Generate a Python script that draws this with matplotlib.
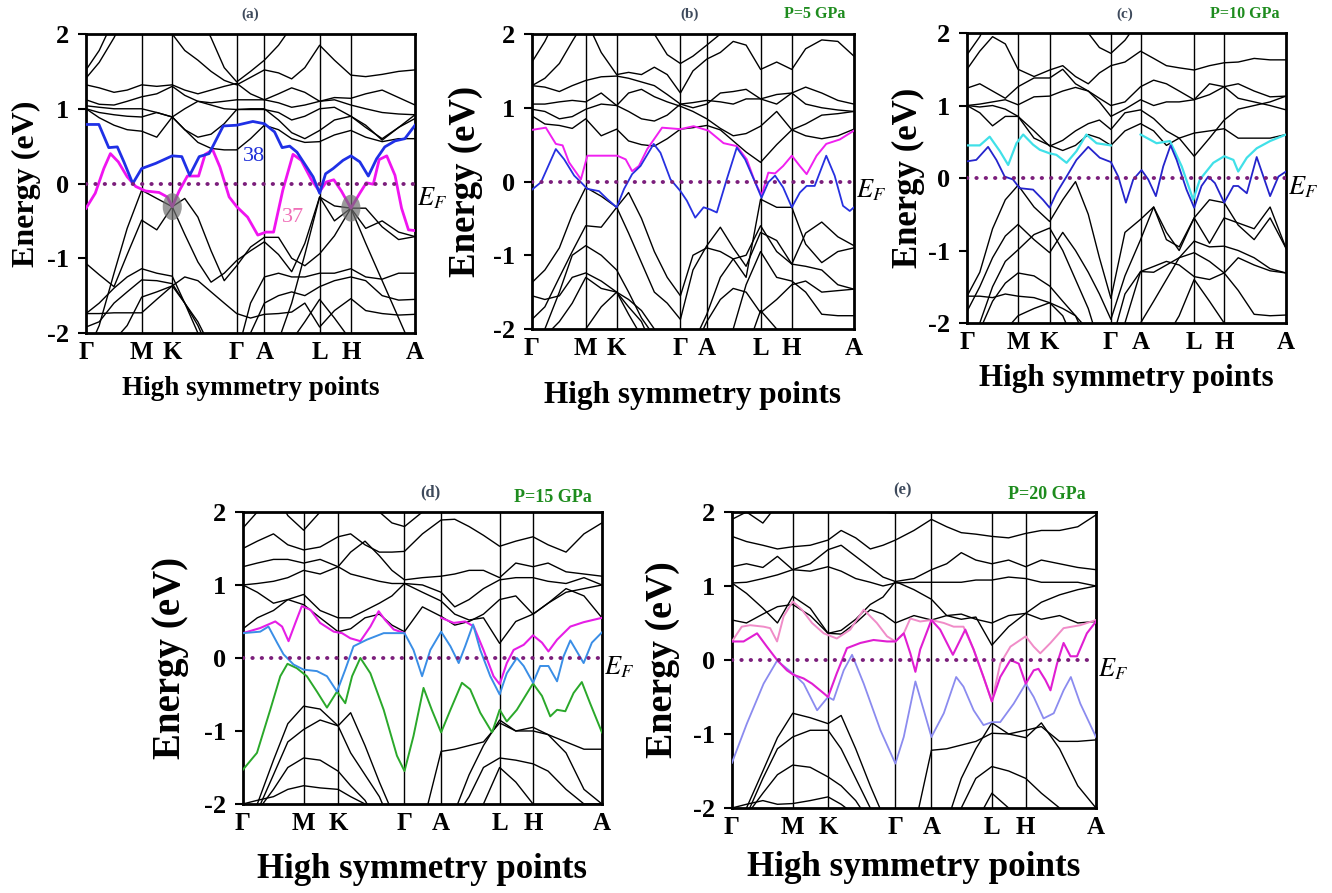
import matplotlib.pyplot as plt
from matplotlib.patches import Ellipse

plt.rcParams['font.family'] = ['Liberation Serif', 'DejaVu Serif']
plt.rcParams['mathtext.fontset'] = 'stix'

sym_labels = ['Γ', 'M', 'K', 'Γ', 'A', 'L', 'H', 'A']
e_ticks = [-2, -1, 0, 1, 2]

# ---------------- panel (a) ----------------
a_sym = [0, 16.9, 26.2, 45.8, 54.2, 71.0, 80.5, 100]
a_grid = [0, 4, 8.5, 12.5, 16.9, 21.5, 26.2, 30, 34, 38, 42, 45.8, 50, 54.2, 58.5, 62.5, 66.5, 71.0, 75.5, 80.5, 85, 90, 95, 100]
a_black = [
    [1.52, 1.78, 2.2, 2.4, 2.4, 2.4, 2.4, 2.4, 2.3, 1.95, 1.55, 1.36, 1.5, 1.65, 1.85, 2.1, 2.4, 2.4, 2.4, 2.4, 2.4, 2.4, 2.4, 2.4],
    [1.41, 1.62, 1.95, 2.3, 2.4, 2.3, 2.0, 1.78, 1.65, 1.5, 1.38, 1.32, 1.42, 1.52, 1.48, 1.4, 1.55, 1.85, 1.65, 1.45, 1.43, 1.46, 1.5, 1.52],
    [1.32, 1.28, 1.22, 1.25, 1.32, 1.3, 1.32, 1.25, 1.2, 1.25, 1.3, 1.34, 1.2, 1.12, 1.2, 1.28, 1.22, 1.1, 1.15, 1.14, 1.2, 1.25, 1.15, 1.05],
    [1.12, 1.06, 1.05, 1.1, 1.16, 1.2, 1.3, 1.18, 1.1, 1.08, 1.1, 1.12, 1.12, 1.12, 1.08, 1.02, 1.05, 1.1, 1.12, 1.05, 1.0, 0.95, 0.93, 0.92],
    [1.04, 1.02, 1.0, 1.0, 1.0, 0.95, 0.89, 1.0, 1.1, 1.05, 1.0, 0.99, 0.99, 0.99, 0.95, 0.85, 0.9, 1.0, 1.02, 0.9, 0.75, 0.6, 0.75, 0.87],
    [1.0, 0.88, 0.78, 0.72, 0.7, 0.62, 0.89, 0.72, 0.62, 0.66, 0.8, 0.99, 1.0, 1.0, 0.85, 0.68, 0.6, 0.71, 0.85, 0.9, 0.78, 0.58, 0.75, 0.92],
    [1.0, 0.95, 0.92, 0.9, 0.89, 0.95, 0.89, 0.72, 0.55, 0.47, 0.45, 0.45, 0.6, 0.78, 0.72, 0.6, 0.55, 0.56, 0.65, 0.71, 0.62, 0.56, 0.6, 0.6],
    [-1.07, -1.22, -1.38, -0.95, -0.49, -0.62, -0.31, -0.2, -0.45, -0.9, -1.3, -1.1, -0.85, -0.72, -0.72, -1.0, -1.1, -0.94, -0.7, -0.33, -0.6, -0.5, -0.65, -0.71],
    [-2.3, -1.9, -1.2, -0.6, -0.09, -0.2, -0.31, -0.68, -1.05, -1.32, -1.2, -1.03, -0.9, -0.78, -0.95, -1.18, -0.8, -0.18, -0.5, -0.33, -0.33, -0.58, -0.75, -0.71],
    [-1.74, -1.6, -1.4, -1.25, -1.14, -1.2, -1.24, -1.6, -2.0, -2.3, -2.3, -2.3, -1.6, -1.25, -1.2, -1.25, -1.25, -1.2, -1.2, -1.14, -1.25, -1.28, -1.2, -1.2],
    [-1.92, -1.85, -1.6, -1.45, -1.29, -1.3, -1.34, -1.6, -1.85, -2.2, -2.3, -2.3, -2.0, -1.6, -1.5, -1.45, -1.5, -1.38, -1.3, -1.25, -1.3, -1.5, -1.56, -1.55],
    [-1.74, -1.74, -1.73, -1.73, -1.73, -1.55, -1.37, -1.25, -1.3, -1.45, -1.6, -1.74, -1.8, -1.75, -1.74, -1.72, -1.6, -1.92, -1.7, -1.54, -1.7, -1.74, -1.76, -1.75],
    [-2.3, -2.3, -2.1, -1.9, -1.52, -1.45, -1.37, -1.6, -1.9, -2.3, -2.3, -2.3, -2.3, -2.3, -2.3, -2.1, -1.85, -1.55, -1.8, -2.1, -2.3, -2.3, -2.3, -2.3],
    [-2.3, -2.3, -2.3, -2.3, -2.3, -2.3, -2.3, -2.3, -2.3, -2.3, -2.3, -2.3, -2.3, -2.3, -2.1, -1.6, -0.95, -0.18, -0.3, -0.33, -0.8, -1.3, -1.8, -2.3],
]
a_k38 = [0, 3.9, 6.9, 9.5, 11.5, 14.2, 16.9, 21.2, 26.2, 29.1, 31.5, 34.4, 37.4, 41.7, 45.8, 50.7, 54.2, 57.3, 59.6, 61.9, 64.1, 69.0, 71.0, 72.8, 75.1, 78.1, 80.5, 83.2, 85.8, 88.3, 90.8, 93.9, 96.9, 100]
a_e38 = [0.79, 0.79, 0.48, 0.49, 0.29, 0.0, 0.20, 0.27, 0.37, 0.36, 0.11, 0.36, 0.40, 0.77, 0.78, 0.83, 0.80, 0.69, 0.48, 0.50, 0.42, 0.09, -0.13, 0.13, 0.20, 0.31, 0.37, 0.29, 0.10, 0.33, 0.49, 0.57, 0.60, 0.78]
a_k37 = [0, 2.8, 5.4, 7.4, 9.8, 12.5, 15.1, 18.1, 22.2, 24.7, 26.2, 28.3, 30.8, 34.2, 36.2, 38.5, 40.7, 43.5, 45.8, 49.1, 52.2, 54.7, 57.0, 59.8, 62.9, 65.4, 68.5, 71.0, 73.0, 75.3, 77.6, 80.5, 83.2, 85.2, 87.3, 89.1, 91.4, 93.9, 95.9, 98.0, 100]
a_e37 = [-0.33, -0.13, 0.20, 0.40, 0.29, 0.09, -0.04, -0.10, -0.12, -0.18, -0.31, -0.10, 0.10, 0.10, 0.39, 0.45, 0.22, -0.18, -0.31, -0.45, -0.69, -0.65, -0.65, -0.09, 0.39, 0.31, 0.05, -0.11, 0.02, 0.05, -0.10, -0.33, -0.13, 0.01, -0.01, 0.32, 0.37, 0.11, -0.33, -0.62, -0.63]
a_node_k = [26.2, 80.5]
a_node_e = [-0.31, -0.33]

# ---------------- panel (b) P=5 GPa ----------------
b_sym = [0, 16.7, 26.3, 46.1, 54.3, 71.0, 80.7, 100]
b_grid = [0, 4, 8.5, 12.5, 16.7, 21.5, 26.3, 30, 34, 38, 42, 46.1, 50, 54.3, 58.5, 62.5, 66.5, 71.0, 76, 80.7, 85, 90, 95, 100]
b_black = [
    [1.62, 1.9, 2.3, 2.4, 2.4, 2.4, 2.4, 2.4, 2.3, 2.0, 1.72, 1.6, 1.7, 1.85, 2.0, 2.2, 2.4, 2.4, 2.4, 2.4, 2.4, 2.4, 2.4, 2.4],
    [1.3, 1.4, 1.6, 1.9, 2.2, 1.75, 1.45, 1.48, 1.45, 1.55, 1.45, 1.2, 1.5, 1.66, 1.75, 1.9, 1.85, 1.52, 1.62, 1.52, 1.8, 1.92, 1.9, 1.7],
    [1.3, 1.28, 1.22, 1.3, 1.37, 1.42, 1.43, 1.4, 1.35, 1.3, 1.18, 1.05, 1.0, 1.05, 1.2, 1.22, 1.25, 1.12, 1.18, 1.2, 1.28, 1.2, 1.1, 1.05],
    [1.05, 1.05, 1.08, 1.1, 1.08, 1.2, 1.03, 0.95, 0.85, 0.82, 0.9, 1.05, 1.07, 1.1, 1.08, 1.05, 1.12, 1.12, 1.05, 1.2, 1.05, 1.0, 0.97, 0.95],
    [0.98, 0.95, 0.85, 0.88, 0.98, 1.05, 1.03, 1.2, 1.25, 1.15, 1.08, 1.02, 0.95, 0.85, 0.72, 0.62, 0.65, 0.75, 0.95, 0.7, 0.78, 0.9, 0.92, 0.95],
    [0.89, 0.78, 0.76, 0.72, 0.85, 0.62, 0.71, 0.55, 0.5, 0.48, 0.58, 0.71, 0.73, 0.76, 0.7, 0.55, 0.4, 0.26, 0.5, 0.7, 0.62, 0.58, 0.62, 0.71],
    [-1.37, -1.2, -0.9, -0.45, -0.08, -0.2, -0.35, -0.7, -1.1, -1.5, -1.65, -1.87, -1.2, -0.87, -0.62, -0.9, -1.15, -0.69, -0.8, -1.12, -0.7, -0.55, -0.75, -0.87],
    [-1.87, -1.7, -1.3, -0.95, -0.6, -0.62, -0.35, -0.15, -0.5, -0.95, -1.3, -1.55, -1.0, -0.9, -0.95, -1.05, -1.3, -0.24, -0.35, -0.35, -0.85, -1.1, -0.95, -0.9],
    [-2.3, -2.0, -1.5, -1.0, -0.87, -1.0, -1.2, -1.5, -1.85, -2.1, -2.3, -2.3, -2.2, -1.8, -1.3, -1.05, -1.0, -0.6, -0.95, -1.12, -1.15, -1.2, -1.4, -1.46],
    [-1.55, -1.6, -1.55, -1.3, -1.24, -1.35, -1.5, -1.6, -1.75, -2.0, -2.3, -2.3, -2.3, -1.9, -1.6, -1.45, -1.5, -1.78, -1.6, -1.4, -1.35, -1.5, -1.48, -1.46],
    [-2.3, -2.1, -1.9, -1.65, -1.3, -1.45, -1.5, -1.7, -1.9, -2.3, -2.3, -2.3, -2.3, -2.3, -2.3, -2.0, -1.4, -0.95, -1.3, -1.35, -1.5, -1.8, -1.82, -1.82],
    [-2.3, -2.3, -2.3, -2.3, -2.0, -1.7, -1.5, -1.8, -2.1, -2.3, -2.3, -2.3, -2.3, -2.3, -2.3, -2.3, -2.3, -1.75, -2.0, -2.3, -2.3, -2.3, -2.3, -2.3],
]
b_k_mag = [0, 4.3, 7.4, 9.5, 11.5, 15.2, 17.2, 26.5, 29.1, 31.1, 33.2, 35.8, 40.4, 46.1, 50.2, 54.8, 59.5, 63.6, 66.7, 69.3, 71.3, 73.4, 75.5, 78.0, 80.7, 83.2, 85.3, 88.4, 91.4, 95.6, 100]
b_e_mag = [0.70, 0.73, 0.51, 0.49, 0.26, 0.03, 0.35, 0.35, 0.30, 0.14, 0.21, 0.44, 0.73, 0.71, 0.75, 0.69, 0.52, 0.48, 0.30, -0.01, -0.19, 0.12, 0.11, 0.21, 0.35, 0.21, 0.10, 0.35, 0.51, 0.57, 0.69]
b_k_blue = [0, 2.8, 7.4, 10.0, 13.1, 15.2, 17.2, 20.8, 23.4, 26.3, 28.6, 31.1, 33.7, 37.8, 39.9, 43.0, 46.1, 48.1, 50.7, 53.3, 55.4, 57.4, 60.5, 63.6, 66.2, 69.3, 71.3, 73.4, 75.5, 78.0, 80.7, 83.2, 85.3, 87.8, 91.4, 94.0, 96.6, 98.7, 100]
b_e_blue = [-0.11, -0.01, 0.44, 0.30, 0.08, -0.01, -0.10, -0.13, -0.24, -0.35, -0.10, 0.10, 0.21, 0.51, 0.39, 0.03, -0.13, -0.26, -0.49, -0.35, -0.38, -0.42, 0.03, 0.46, 0.30, -0.01, -0.22, -0.01, 0.08, -0.08, -0.35, -0.15, -0.06, -0.06, 0.35, 0.08, -0.33, -0.40, -0.35]

# ---------------- panel (c) P=10 GPa ----------------
c_sym = [0, 16.0, 25.9, 45.1, 54.4, 71.2, 80.6, 100]
c_grid = [0, 4, 8, 12, 16.0, 21, 25.9, 30, 34, 38, 41.5, 45.1, 49.5, 54.4, 58.5, 62.5, 66.5, 71.2, 76, 80.6, 85, 90, 95, 100]
c_black = [
    [1.7, 1.95, 2.3, 2.4, 2.4, 2.4, 2.4, 2.4, 2.3, 2.0, 1.8, 1.72, 1.9, 2.2, 2.4, 2.4, 2.4, 2.4, 2.4, 2.4, 2.4, 2.4, 2.4, 2.4],
    [1.5, 1.75, 1.95, 1.85, 1.5, 1.4, 1.49, 1.55, 1.4, 1.3, 1.45, 1.55, 1.6, 1.75, 1.65, 1.55, 1.52, 1.49, 1.55, 1.59, 1.6, 1.65, 1.63, 1.63],
    [1.24, 1.3, 1.2, 1.1, 1.26, 1.38, 1.38, 1.5, 1.3, 1.2, 1.1, 1.0, 1.05, 1.26, 1.35, 1.3, 1.2, 1.08, 1.3, 1.26, 1.3, 1.2, 1.12, 1.13],
    [1.0, 1.02, 1.05, 1.08, 1.01, 1.12, 1.13, 1.2, 1.25, 1.2, 1.05, 0.85, 0.95, 1.08, 1.0, 1.05, 1.05, 1.08, 1.15, 1.26, 1.1, 1.05, 1.0, 0.94],
    [1.0, 0.9, 0.72, 0.85, 0.85, 0.65, 0.44, 0.52, 0.65, 0.75, 0.8, 0.67, 0.9, 0.94, 0.82, 0.65, 0.55, 0.3, 0.55, 0.8, 0.95, 1.0, 1.05, 1.13],
    [1.0, 0.98, 1.0, 0.95, 0.85, 0.55, 0.45, 0.38, 0.45, 0.6, 0.55, 0.45, 0.65, 0.75, 0.65, 0.45, 0.55, 0.62, 0.65, 0.68, 0.55, 0.55, 0.55, 0.6],
    [-1.63, -1.3, -0.7, -0.3, -0.1, -0.4, -0.6, -0.3, -0.05, -0.5, -1.1, -1.66, -0.75, -0.57, -0.4, -0.85, -0.95, -0.55, -0.9, -0.55, -0.62, -0.7, -0.4, -0.97],
    [-1.84, -1.5, -1.1, -0.8, -0.64, -0.85, -1.03, -0.75, -1.0, -1.3, -1.6, -1.95, -1.35, -0.85, -0.4, -0.75, -1.0, -0.55, -0.3, -0.34, -0.65, -0.85, -0.55, -0.97],
    [-2.3, -2.0, -1.5, -1.15, -0.99, -0.78, -0.69, -1.0, -1.4, -1.8, -2.3, -2.3, -1.6, -1.29, -1.3, -1.2, -1.1, -0.87, -0.95, -0.94, -1.0, -1.1, -1.25, -1.31],
    [-2.3, -2.1, -1.7, -1.45, -1.31, -1.35, -1.49, -1.7, -1.9, -2.3, -2.3, -2.3, -2.0, -1.29, -1.22, -1.15, -1.2, -1.36, -1.4, -1.31, -1.1, -1.2, -1.28, -1.31],
    [-1.63, -1.63, -1.65, -1.6, -1.63, -1.65, -1.72, -1.8, -1.9, -2.1, -2.3, -2.3, -2.3, -2.0, -1.7, -1.4, -1.1, -1.03, -1.15, -1.31, -1.55, -1.88, -1.9, -1.89],
    [-2.3, -2.3, -2.3, -2.1, -1.9, -1.8, -1.72, -1.9, -2.3, -2.3, -2.3, -2.3, -2.3, -2.3, -2.3, -2.2, -1.9, -1.4, -1.7, -2.0, -2.3, -2.3, -2.3, -2.3],
]
c_k_cyan1 = [0, 4.0, 7.1, 10.3, 12.9, 15.5, 17.6, 20.7, 22.8, 25.9, 28.0, 31.2, 34.3, 37.4, 40.6, 45.1]
c_e_cyan1 = [0.45, 0.45, 0.57, 0.37, 0.18, 0.48, 0.60, 0.46, 0.39, 0.34, 0.32, 0.21, 0.37, 0.60, 0.48, 0.45]
c_k_cyan2 = [54.4, 59.4, 63.6, 67.3, 70.9, 73.0, 77.2, 80.6, 83.5, 85.0, 87.7, 90.8, 95.0, 100]
c_e_cyan2 = [0.60, 0.48, 0.51, 0.16, -0.30, -0.02, 0.21, 0.30, 0.25, 0.09, 0.28, 0.41, 0.51, 0.60]
c_k_blue = [0, 2.9, 6.6, 9.2, 11.8, 14.4, 16.5, 20.7, 23.8, 25.9, 28.0, 31.2, 34.3, 38.0, 41.6, 45.1, 47.4, 49.8, 52.1, 54.7, 56.8, 59.2, 61.5, 63.8, 65.7, 68.8, 71.2, 73.5, 75.6, 77.7, 80.6, 83.5, 85.0, 87.7, 90.8, 92.9, 95.0, 97.6, 100]
c_e_blue = [0.23, 0.25, 0.43, 0.25, 0.02, -0.02, -0.14, -0.16, -0.30, -0.41, -0.21, 0.02, 0.25, 0.43, 0.28, 0.22, 0.02, -0.34, -0.02, 0.11, -0.02, -0.25, 0.16, 0.45, 0.25, -0.16, -0.41, -0.11, 0.02, -0.07, -0.34, -0.11, -0.11, -0.21, 0.29, 0.02, -0.25, 0.02, 0.09]

# ---------------- panel (d) P=15 GPa ----------------
d_sym = [0, 16.9, 26.5, 45.0, 55.2, 71.5, 80.8, 100]
d_grid = [0, 4, 8.5, 12.5, 16.9, 21.5, 26.5, 30, 34, 38, 41.5, 45.0, 50, 55.2, 59, 63, 67, 71.5, 76, 80.8, 85, 90, 95, 100]
d_black = [
    [1.78, 2.0, 2.3, 1.95, 1.75, 2.0, 2.3, 2.4, 2.3, 2.0, 1.85, 1.8, 2.0, 2.3, 2.4, 2.4, 2.4, 2.4, 2.4, 2.4, 2.4, 2.4, 2.4, 2.4],
    [1.5, 1.6, 1.7, 1.55, 1.48, 1.52, 1.66, 1.7, 1.55, 1.45, 1.45, 1.46, 1.7, 1.89, 1.9, 1.8, 1.68, 1.53, 1.6, 1.66, 1.55, 1.45, 1.7, 1.85],
    [1.25, 1.3, 1.35, 1.35, 1.3, 1.35, 1.25, 1.45, 1.6, 1.4, 1.2, 1.07, 1.1, 1.12, 1.15, 1.2, 1.2, 1.1, 1.3, 1.25, 1.3, 1.18, 1.15, 1.12],
    [1.0, 1.02, 1.05, 1.1, 1.2, 1.15, 1.25, 1.15, 1.1, 1.05, 1.02, 1.02, 1.0, 0.9, 0.7, 0.8, 0.95, 1.07, 1.1, 1.1, 1.05, 1.02, 1.1, 1.0],
    [1.0, 0.9, 0.75, 0.8, 0.87, 0.65, 0.55, 0.55, 0.65, 0.75, 0.85, 1.02, 0.9, 0.78, 0.6, 0.52, 0.55, 0.2, 0.5, 0.6, 0.75, 0.9, 0.95, 1.0],
    [0.4, 0.55, 0.65, 0.8, 0.73, 0.55, 0.36, 0.4, 0.55, 0.6, 0.45, 0.36, 0.7, 0.57, 0.45, 0.5, 0.6, 0.8, 0.85, 0.6, 0.75, 0.95, 0.85, 0.55],
    [-2.3, -2.0, -1.4, -0.9, -0.66, -0.7, -0.93, -1.3, -1.6, -1.9, -2.3, -2.3, -2.3, -1.28, -1.25, -1.2, -1.15, -0.89, -1.0, -0.95, -1.05, -1.15, -1.25, -1.25],
    [-2.3, -2.1, -1.6, -1.15, -0.98, -0.85, -0.93, -0.75, -1.2, -1.7, -2.1, -2.3, -2.3, -2.3, -2.1, -1.6, -1.2, -0.85, -1.0, -1.0, -1.05, -1.3, -1.8, -2.0],
    [-2.3, -2.1, -1.8, -1.5, -1.37, -1.4, -1.55, -1.75, -1.95, -2.3, -2.3, -2.3, -2.3, -2.3, -2.2, -1.9, -1.5, -1.37, -1.4, -1.45, -1.55, -1.8, -2.0, -2.0],
    [-2.0, -1.95, -1.9, -1.8, -1.75, -1.78, -1.8, -1.9, -2.0, -2.3, -2.3, -2.3, -2.3, -2.3, -2.3, -2.3, -2.0, -1.5, -1.7, -2.0, -2.3, -2.3, -2.3, -2.3],
]
d_k_mag1 = [0, 4.8, 9.0, 10.9, 12.7, 14.6, 16.4, 18.8, 21.5, 25.3, 27.6, 29.9, 32.7, 35.5, 37.8, 39.6, 42.0, 45.0]
d_e_mag1 = [0.34, 0.41, 0.50, 0.43, 0.23, 0.48, 0.71, 0.66, 0.48, 0.36, 0.34, 0.27, 0.23, 0.43, 0.64, 0.52, 0.39, 0.34]
d_k_mag2 = [55.2, 58.7, 61.9, 64.3, 67.0, 69.8, 71.5, 73.5, 75.4, 78.2, 80.8, 83.3, 85.1, 87.5, 91.2, 94.9, 100]
d_e_mag2 = [0.55, 0.48, 0.50, 0.43, 0.11, -0.25, -0.36, -0.07, 0.11, 0.18, 0.31, 0.21, 0.09, 0.25, 0.43, 0.49, 0.55]
d_k_blue = [0, 4.8, 7.1, 9.5, 11.3, 14.1, 16.9, 20.6, 23.4, 26.2, 28.5, 30.8, 34.5, 39.2, 45.0, 47.5, 49.9, 52.2, 55.2, 57.8, 60.1, 61.9, 64.1, 66.1, 68.9, 71.5, 73.5, 76.3, 78.2, 80.8, 82.8, 85.1, 87.5, 89.3, 91.2, 93.0, 94.9, 97.2, 100]
d_e_blue = [0.34, 0.36, 0.43, 0.21, 0.05, -0.09, -0.16, -0.18, -0.25, -0.46, -0.16, 0.16, 0.25, 0.34, 0.34, 0.11, -0.25, 0.11, 0.36, 0.16, -0.07, 0.16, 0.46, 0.11, -0.25, -0.50, -0.21, 0.0, -0.11, -0.34, -0.11, -0.11, -0.32, 0.02, 0.24, 0.09, -0.07, 0.21, 0.35]
d_k_green = [0, 3.9, 7.6, 10.4, 12.4, 15.0, 17.8, 20.6, 23.4, 26.2, 28.5, 30.4, 32.7, 35.5, 39.2, 42.9, 45.0, 47.5, 50.3, 52.6, 55.2, 57.8, 61.0, 63.3, 66.1, 69.4, 71.5, 73.5, 76.3, 80.8, 83.3, 85.6, 87.5, 89.8, 92.1, 94.4, 96.7, 100]
d_e_green = [-1.53, -1.30, -0.71, -0.25, -0.08, -0.14, -0.25, -0.46, -0.68, -0.46, -0.62, -0.25, 0.0, -0.21, -0.71, -1.34, -1.55, -1.07, -0.41, -0.71, -1.02, -0.71, -0.34, -0.43, -0.75, -1.02, -0.71, -0.87, -0.71, -0.35, -0.52, -0.80, -0.71, -0.73, -0.48, -0.33, -0.62, -1.02]

# ---------------- panel (e) P=20 GPa ----------------
e_sym = [0, 16.7, 26.4, 44.9, 54.8, 71.4, 80.7, 100]
e_grid = [0, 4, 8.5, 12.5, 16.7, 21.5, 26.4, 30, 34, 38, 41.5, 44.9, 50, 54.8, 59, 63, 67, 71.4, 76, 80.7, 85, 90, 95, 100]
e_black = [
    [1.9, 2.0, 1.85, 2.1, 2.4, 2.4, 2.4, 2.4, 2.3, 2.1, 2.0, 1.98, 2.1, 2.3, 2.4, 2.4, 2.4, 2.4, 2.4, 2.4, 2.4, 2.4, 2.4, 2.4],
    [1.67, 1.6, 1.55, 1.5, 1.53, 1.55, 1.62, 1.75, 1.65, 1.5, 1.55, 1.62, 1.75, 1.9, 1.8, 1.72, 1.7, 1.67, 1.65, 1.71, 1.75, 1.75, 1.8, 1.96],
    [1.26, 1.3, 1.25, 1.4, 1.22, 1.3, 1.49, 1.55, 1.4, 1.25, 1.12, 1.06, 1.1, 1.22, 1.3, 1.45, 1.35, 1.3, 1.35, 1.26, 1.35, 1.3, 1.25, 1.22],
    [1.04, 1.05, 1.1, 1.15, 1.22, 1.2, 1.26, 1.2, 1.1, 1.05, 1.0, 1.04, 1.05, 1.05, 1.05, 1.05, 1.08, 1.08, 1.12, 1.1, 1.05, 1.05, 1.05, 1.0],
    [1.04, 0.9, 0.7, 0.5, 0.86, 0.7, 0.36, 0.4, 0.55, 0.75, 0.85, 1.06, 0.95, 0.82, 0.6, 0.55, 0.58, 0.2, 0.45, 0.63, 0.78, 0.88, 0.95, 1.0],
    [0.54, 0.5, 0.62, 0.72, 0.75, 0.6, 0.36, 0.35, 0.5, 0.68, 0.62, 0.5, 0.6, 0.54, 0.6, 0.62, 0.55, 0.5, 0.6, 0.63, 0.55, 0.6, 0.5, 0.52],
    [-2.3, -2.0, -1.5, -1.05, -0.72, -0.78, -0.86, -0.75, -1.2, -1.7, -2.1, -2.3, -2.3, -1.22, -1.2, -1.15, -1.1, -0.99, -1.0, -0.95, -0.9, -1.1, -1.1, -1.08],
    [-2.3, -2.1, -1.6, -1.2, -1.04, -0.95, -0.95, -1.2, -1.6, -2.0, -2.3, -2.3, -2.3, -2.3, -2.2, -1.6, -1.2, -0.85, -1.0, -1.05, -0.85, -1.2, -1.7, -2.0],
    [-2.3, -2.1, -1.8, -1.55, -1.42, -1.45, -1.58, -1.7, -1.9, -2.2, -2.3, -2.3, -2.3, -2.3, -2.3, -2.0, -1.6, -1.44, -1.5, -1.6, -1.8, -2.0, -2.2, -2.3],
    [-2.0, -1.95, -1.9, -1.95, -1.94, -1.9, -1.85, -1.95, -2.1, -2.3, -2.3, -2.3, -2.3, -2.3, -2.3, -2.3, -2.2, -1.8, -2.0, -2.3, -2.3, -2.3, -2.3, -2.3],
]
e_k_pink = [0, 2.7, 5.0, 8.7, 10.5, 12.4, 14.2, 16.7, 19.2, 22.0, 25.2, 28.8, 32.5, 36.2, 39.8, 42.6, 44.9, 47.2, 49.0, 51.7, 54.8, 58.2, 60.9, 63.6, 66.4, 69.1, 71.4, 73.7, 76.5, 79.2, 80.7, 82.9, 84.7, 87.5, 91.1, 95.7, 100]
e_e_pink = [0.25, 0.45, 0.47, 0.45, 0.43, 0.25, 0.59, 0.79, 0.68, 0.50, 0.36, 0.29, 0.41, 0.68, 0.50, 0.32, 0.25, 0.36, 0.56, 0.52, 0.54, 0.50, 0.45, 0.45, 0.14, -0.23, -0.56, -0.05, 0.18, 0.27, 0.32, 0.18, 0.09, 0.23, 0.43, 0.47, 0.54]
e_k_mag = [0, 3.2, 6.9, 9.6, 12.4, 15.1, 16.9, 19.7, 22.0, 25.2, 26.4, 28.8, 31.6, 35.3, 38.9, 42.6, 44.9, 47.2, 49.0, 50.4, 51.7, 54.8, 57.2, 60.7, 62.3, 64.1, 66.4, 69.1, 71.4, 73.7, 76.5, 78.8, 80.7, 82.9, 84.2, 86.1, 87.5, 89.3, 91.1, 93.0, 94.8, 97.5, 100]
e_e_mag = [0.25, 0.25, 0.36, 0.18, 0.0, -0.14, -0.20, -0.25, -0.32, -0.45, -0.50, -0.18, 0.16, 0.23, 0.27, 0.25, 0.25, 0.36, 0.09, -0.16, 0.14, 0.54, 0.41, 0.07, 0.23, 0.41, 0.14, -0.23, -0.56, -0.23, 0.0, -0.05, -0.32, -0.14, -0.12, -0.27, -0.41, -0.05, 0.23, 0.05, 0.05, 0.36, 0.52]
e_k_lav = [0, 4.1, 8.7, 12.4, 16.7, 19.7, 23.4, 26.4, 27.9, 30.7, 33.0, 36.2, 40.8, 44.9, 47.2, 50.4, 52.7, 54.8, 58.2, 61.6, 63.6, 66.4, 69.1, 71.4, 73.7, 77.4, 80.7, 82.9, 85.6, 88.4, 91.1, 93.1, 95.7, 100]
e_e_lav = [-1.39, -0.86, -0.32, -0.01, -0.18, -0.32, -0.68, -0.50, -0.54, -0.14, 0.07, -0.32, -0.95, -1.40, -1.04, -0.29, -0.68, -1.04, -0.72, -0.23, -0.36, -0.68, -0.88, -0.84, -0.84, -0.59, -0.32, -0.50, -0.79, -0.72, -0.41, -0.23, -0.59, -1.04]

fig = plt.figure(figsize=(13.32, 8.93), dpi=100)


def draw_panel(rect, sym, grid, black, colored, ylab_x, xlab_y, xlab_size, ylab_size, ef_y=-0.12):
    ax = fig.add_axes(rect)
    for band in black:
        ax.plot(grid, band, color='black', lw=1.0, zorder=2)
    for k, e, col, lw in colored:
        ax.plot(k, e, color=col, lw=lw, zorder=3, solid_joinstyle='round')
    for x in sym[1:-1]:
        ax.axvline(x, color='black', lw=1.0, zorder=1)
    ax.axhline(0, color='#7b1e7b', lw=2.8, ls=(0, (0.1, 2.3)),
               dash_capstyle='round', zorder=4)
    ax.set_xlim(0, 100)
    ax.set_ylim(-2, 2)
    ax.set_xticks(sym)
    ax.set_xticklabels(sym_labels, fontsize=18, fontweight='bold')
    ax.tick_params(axis='x', length=0, pad=6)
    ax.set_yticks(e_ticks)
    ax.set_yticklabels([str(t) for t in e_ticks], fontsize=19, fontweight='bold')
    ax.tick_params(axis='y', length=6, width=1.5, pad=6)
    for s in ax.spines.values():
        s.set_linewidth(2)
    ax.set_xlabel('High symmetry points', fontsize=xlab_size, fontweight='bold')
    ax.xaxis.set_label_coords(0.5, xlab_y)
    ax.xaxis.label.set_va('center')
    ax.set_ylabel('Energy (eV)', fontsize=ylab_size, fontweight='bold')
    ax.yaxis.set_label_coords(ylab_x, 0.5)
    ax.yaxis.label.set_va('center')
    ax.annotate('$E_F$', xy=(1.005, ef_y), xycoords=('axes fraction', 'data'),
                fontsize=19, va='center', ha='left', annotation_clip=False)
    return ax


ax_a = draw_panel([0.0646, 0.6271, 0.2470, 0.3348], a_sym, a_grid, a_black,
                  [(a_k37, a_e37, '#f014f0', 2.0), (a_k38, a_e38, '#1f30e6', 2.0)],
                  -0.18, -0.184, 19.5, 23, ef_y=-0.2)
for k, e in zip(a_node_k, a_node_e):
    ax_a.add_patch(Ellipse((k, e), 5.8, 0.36, color='#707070', alpha=0.7, zorder=5, lw=0))
ax_a.text(51.2, 0.36, '38', color='#2030d8', fontsize=16, ha='center', va='center')
ax_a.text(62.9, -0.45, '37', color='#f070b8', fontsize=16, ha='center', va='center')

draw_panel([0.3994, 0.6316, 0.2417, 0.3303], b_sym, b_grid, b_black,
           [(b_k_mag, b_e_mag, '#f020f0', 1.4), (b_k_blue, b_e_blue, '#2630e0', 1.3)],
           -0.208, -0.224, 22.5, 26.5)

draw_panel([0.7260, 0.6383, 0.2395, 0.3247], c_sym, c_grid, c_black,
           [(c_k_cyan1, c_e_cyan1, '#40e0e8', 1.6), (c_k_cyan2, c_e_cyan2, '#40e0e8', 1.6),
            (c_k_blue, c_e_blue, '#2424cc', 1.3)],
           -0.185, -0.19, 22.3, 25)

draw_panel([0.1824, 0.0997, 0.2695, 0.3270], d_sym, d_grid, d_black,
           [(d_k_green, d_e_green, '#2aa82a', 1.4), (d_k_mag1, d_e_mag1, '#e61ee6', 1.5),
            (d_k_mag2, d_e_mag2, '#e61ee6', 1.5), (d_k_blue, d_e_blue, '#3a8ee6', 1.4)],
           -0.203, -0.226, 25, 28)

draw_panel([0.5495, 0.0952, 0.2733, 0.3315], e_sym, e_grid, e_black,
           [(e_k_lav, e_e_lav, '#8b8bef', 1.3), (e_k_pink, e_e_pink, '#f08cc8', 1.4),
            (e_k_mag, e_e_mag, '#e01ed2', 1.5)],
           -0.192, -0.2, 25.2, 27.3)

tag_color = '#3e4a5c'
p_color = '#1e8c1e'
fig.text(250 / 1332, 1 - 14 / 893, '(a)', fontsize=11, fontweight='bold', color=tag_color, ha='center', va='center')
fig.text(690 / 1332, 1 - 14 / 893, '(b)', fontsize=11, fontweight='bold', color=tag_color, ha='center', va='center')
fig.text(815 / 1332, 1 - 14 / 893, 'P=5 GPa', fontsize=11.5, fontweight='bold', color=p_color, ha='center', va='center')
fig.text(1125 / 1332, 1 - 14 / 893, '(c)', fontsize=11, fontweight='bold', color=tag_color, ha='center', va='center')
fig.text(1245 / 1332, 1 - 14 / 893, 'P=10 GPa', fontsize=11.5, fontweight='bold', color=p_color, ha='center', va='center')
fig.text(430 / 1332, 1 - 492 / 893, '(d)', fontsize=12, fontweight='bold', color=tag_color, ha='center', va='center')
fig.text(553 / 1332, 1 - 498 / 893, 'P=15 GPa', fontsize=13, fontweight='bold', color=p_color, ha='center', va='center')
fig.text(903 / 1332, 1 - 490 / 893, '(e)', fontsize=12, fontweight='bold', color=tag_color, ha='center', va='center')
fig.text(1047 / 1332, 1 - 495 / 893, 'P=20 GPa', fontsize=13, fontweight='bold', color=p_color, ha='center', va='center')

fig.savefig('out.png', dpi=100)
